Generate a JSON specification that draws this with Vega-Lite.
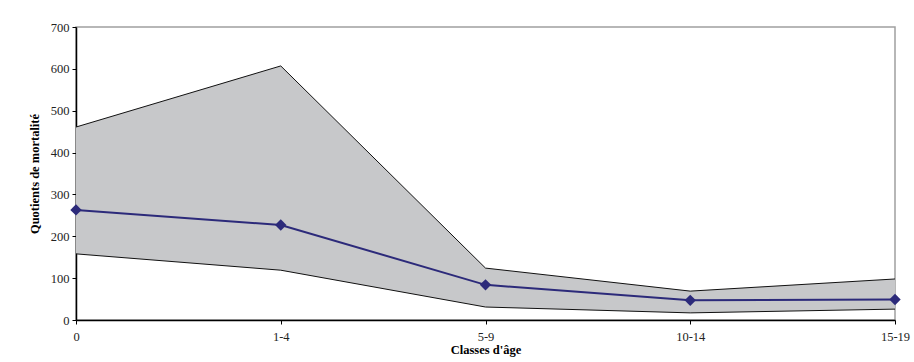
{
  "$schema": "https://vega.github.io/schema/vega-lite/v6.json",
  "width": 819,
  "height": 293,
  "autosize": {"type": "none"},
  "padding": {"left": 76, "top": 27, "right": 19, "bottom": 42},
  "background": "white",
  "config": {
    "view": {"stroke": "#a0a0a0", "strokeWidth": 1.5},
    "font": "Liberation Serif",
    "axis": {
      "labelFont": "Liberation Serif",
      "titleFont": "Liberation Serif",
      "labelFontSize": 12.5,
      "titleFontSize": 12.5,
      "labelColor": "#222",
      "titleColor": "#000",
      "domainColor": "#000",
      "tickColor": "#000",
      "grid": false
    }
  },
  "data": {
    "values": [
      {"age": "0", "lower": 158, "mean": 263, "upper": 461},
      {"age": "1-4", "lower": 119, "mean": 227, "upper": 607},
      {"age": "5-9", "lower": 31, "mean": 84, "upper": 124},
      {"age": "10-14", "lower": 17, "mean": 47, "upper": 69},
      {"age": "15-19", "lower": 26, "mean": 49, "upper": 98}
    ]
  },
  "encoding": {
    "x": {
      "field": "age",
      "type": "ordinal",
      "sort": null,
      "scale": {"type": "point", "padding": 0},
      "axis": {
        "title": "Classes d'âge",
        "labelAngle": 0,
        "tickSize": 4,
        "labelPadding": 6,
        "titlePadding": 1,
        "domainWidth": 1.5,
        "labelOverlap": false,
        "labelBound": false
      }
    }
  },
  "layer": [
    {
      "mark": {"type": "area", "color": "#c7c8ca", "opacity": 1},
      "encoding": {
        "y": {
          "field": "upper",
          "type": "quantitative",
          "scale": {"domain": [0, 700]},
          "axis": {
            "title": "Quotients de mortalité",
            "values": [0, 100, 200, 300, 400, 500, 600, 700],
            "tickSize": 4,
            "labelPadding": 3,
            "titlePadding": 9,
            "domainWidth": 1.5
          }
        },
        "y2": {"field": "lower"}
      }
    },
    {
      "mark": {"type": "line", "color": "#111", "strokeWidth": 1},
      "encoding": {"y": {"field": "upper", "type": "quantitative"}}
    },
    {
      "mark": {"type": "line", "color": "#111", "strokeWidth": 1},
      "encoding": {"y": {"field": "lower", "type": "quantitative"}}
    },
    {
      "mark": {"type": "line", "color": "#2c2a7a", "strokeWidth": 2, "point": {"shape": "diamond", "size": 130, "filled": true, "color": "#2c2a7a", "opacity": 1}},
      "encoding": {"y": {"field": "mean", "type": "quantitative"}}
    }
  ]
}
